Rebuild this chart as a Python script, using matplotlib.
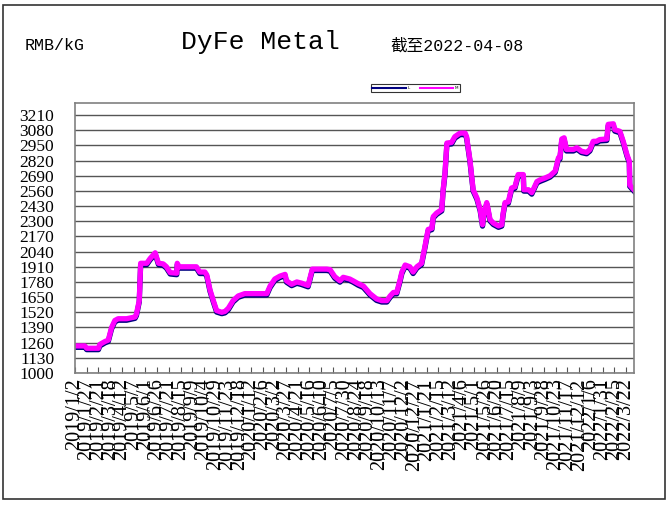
import matplotlib
matplotlib.use('Agg')
import matplotlib.pyplot as plt
import pandas as pd
from matplotlib.patches import Rectangle

# price points (RMB/kG)
dates = [
    '2019-01-02', '2019-01-23', '2019-01-27', '2019-02-21', '2019-02-24', '2019-03-07',
    '2019-03-14', '2019-03-21', '2019-03-28', '2019-04-04', '2019-04-22', '2019-05-10',
    '2019-05-13', '2019-05-19', '2019-05-22', '2019-06-04', '2019-06-11', '2019-06-22',
    '2019-06-29', '2019-07-09', '2019-07-16', '2019-07-24', '2019-08-07', '2019-08-08',
    '2019-08-12', '2019-09-18', '2019-09-25', '2019-10-06', '2019-10-10', '2019-10-17',
    '2019-10-24', '2019-10-31', '2019-11-11', '2019-11-18', '2019-11-25', '2019-12-05',
    '2019-12-16', '2019-12-30', '2020-02-15', '2020-02-22', '2020-03-03', '2020-03-14',
    '2020-03-25', '2020-03-28', '2020-04-08', '2020-04-19', '2020-04-29', '2020-05-13',
    '2020-05-22', '2020-06-22', '2020-06-29', '2020-07-09', '2020-07-20', '2020-07-27',
    '2020-08-10', '2020-08-17', '2020-08-28', '2020-09-08', '2020-09-22', '2020-10-06',
    '2020-10-17', '2020-10-28', '2020-11-04', '2020-11-11', '2020-11-18', '2020-11-25',
    '2020-11-29', '2020-12-06', '2020-12-16', '2020-12-23', '2020-12-31', '2021-01-10',
    '2021-01-17', '2021-01-24', '2021-02-01', '2021-02-04', '2021-02-11', '2021-02-22',
    '2021-02-25', '2021-03-01', '2021-03-05', '2021-03-15', '2021-03-22', '2021-04-02',
    '2021-04-13', '2021-04-16', '2021-04-23', '2021-04-30', '2021-05-08', '2021-05-15',
    '2021-05-20', '2021-05-23', '2021-05-29', '2021-06-01', '2021-06-05', '2021-06-12',
    '2021-06-23', '2021-06-30', '2021-07-03', '2021-07-07', '2021-07-14', '2021-07-21',
    '2021-07-28', '2021-08-04', '2021-08-15', '2021-08-16', '2021-08-26', '2021-09-02',
    '2021-09-05', '2021-09-13', '2021-09-20', '2021-09-30', '2021-10-11', '2021-10-22',
    '2021-10-29', '2021-11-01', '2021-11-05', '2021-11-10', '2021-11-15', '2021-11-30',
    '2021-12-07', '2021-12-17', '2021-12-28', '2022-01-04', '2022-01-11', '2022-01-18',
    '2022-01-25', '2022-02-09', '2022-02-12', '2022-02-23', '2022-02-26', '2022-03-09',
    '2022-03-16', '2022-03-24', '2022-03-29', '2022-03-30', '2022-04-08',
]
price_m = [
    1232, 1232, 1212, 1212, 1245, 1270,
    1282, 1390, 1450, 1465, 1465, 1480,
    1505, 1620, 1940, 1940, 1980, 2030,
    1940, 1935, 1910, 1860, 1855, 1940,
    1910, 1910, 1865, 1865, 1840, 1710,
    1620, 1535, 1520, 1528, 1555, 1620,
    1660, 1680, 1680, 1745, 1805, 1830,
    1845, 1790, 1760, 1780, 1770, 1750,
    1890, 1890, 1885, 1825, 1790, 1820,
    1805, 1790, 1765, 1745, 1680, 1635,
    1620, 1620, 1660, 1690, 1690, 1795,
    1865, 1925, 1910, 1865, 1910, 1940,
    2080, 2230, 2240, 2340, 2370, 2400,
    2570, 2715, 2970, 2975, 3025, 3055,
    3055, 3025, 2830, 2570, 2500, 2400,
    2270, 2370, 2460, 2400, 2315, 2285,
    2260, 2270, 2370, 2460, 2465, 2585,
    2595, 2700, 2700, 2570, 2570, 2545,
    2570, 2640, 2655, 2670, 2690, 2730,
    2845, 2845, 3005, 3015, 2915, 2915,
    2930, 2900, 2890, 2915, 2985, 2985,
    3000, 3005, 3130, 3135, 3085, 3070,
    2985, 2870, 2815, 2610, 2570,
]
price_l = [
    1220, 1220, 1200, 1200, 1232, 1258,
    1270, 1378, 1438, 1452, 1452, 1468,
    1492, 1608, 1928, 1928, 1968, 2018,
    1928, 1922, 1898, 1848, 1842, 1928,
    1898, 1898, 1852, 1852, 1828, 1698,
    1608, 1522, 1508, 1515, 1542, 1608,
    1648, 1668, 1668, 1732, 1792, 1818,
    1832, 1778, 1748, 1768, 1758, 1738,
    1878, 1878, 1872, 1812, 1778, 1808,
    1792, 1778, 1752, 1732, 1668, 1622,
    1608, 1608, 1648, 1678, 1678, 1782,
    1852, 1912, 1898, 1852, 1898, 1928,
    2068, 2218, 2228, 2328, 2358, 2388,
    2558, 2702, 2958, 2962, 3012, 3042,
    3042, 3012, 2818, 2558, 2488, 2388,
    2258, 2358, 2448, 2388, 2302, 2272,
    2248, 2258, 2358, 2448, 2452, 2572,
    2582, 2688, 2688, 2558, 2558, 2532,
    2558, 2628, 2642, 2658, 2678, 2718,
    2832, 2832, 2992, 3002, 2902, 2902,
    2918, 2888, 2878, 2902, 2972, 2972,
    2988, 2992, 3118, 3122, 3072, 3058,
    2972, 2858, 2802, 2598, 2558,
]
y_ticks = [1000, 1130, 1260, 1390, 1520, 1650, 1780, 1910, 2040,
           2170, 2300, 2430, 2560, 2690, 2820, 2950, 3080, 3210]
x_start = '2019-01-02'
x_end = '2022-04-08'
tick_step = '25D'

W, H = 668, 509
fig = plt.figure(figsize=(W / 100, H / 100), dpi=100)
ax = fig.add_axes([75 / W, 1 - 373 / H, (634 - 75) / W, (373 - 103) / H])

x = pd.to_datetime(dates)
ax.plot(x, price_l, color='#000080', lw=3.8, label='L')
ax.plot(x, price_m, color='#ff00ff', lw=3.8, label='M')

ax.set_xlim(pd.Timestamp(x_start), pd.Timestamp(x_end))
ax.set_ylim(1000, 3313)
ax.set_yticks(y_ticks)
ax.set_yticklabels([str(v) for v in y_ticks], family='Liberation Serif', fontsize=12.5)
ax.yaxis.grid(True, color='#555555', lw=1)
ax.set_axisbelow(True)
ax.tick_params(axis='y', length=0, pad=15)

ticks = pd.date_range(x_start, x_end, freq=tick_step)
ax.set_xticks(ticks)
ax.set_xticklabels([f'{d.year}/{d.month}/{d.day}' for d in ticks], rotation=90,
                   family='Liberation Serif', fontsize=14.5)
ax.tick_params(axis='x', direction='in', length=4, color='#555555', pad=4)
for s in ax.spines.values():
    s.set_color('#808080')
    s.set_linewidth(1.2)

fig.text(25 / W, 1 - 46 / H, 'RMB/kG', family='Liberation Mono', fontsize=12, va='center')
fig.text(260 / W, 1 - 42 / H, 'DyFe Metal', family='Liberation Mono', fontsize=19,
         ha='center', va='center')
fig.text(390 / W, 1 - 46 / H, '截至2022-04-08', family=['Liberation Mono', 'Noto Sans CJK SC'],
         fontsize=12, va='center')

leg = fig.legend(loc='center', bbox_to_anchor=(415.5 / W, 1 - 88 / H), ncol=2, fontsize=3,
                 frameon=True, fancybox=False, edgecolor='black', handlelength=8,
                 handletextpad=0.4, columnspacing=2.5, borderpad=0.4)
leg.get_frame().set_linewidth(0.8)
for line in leg.get_lines():
    line.set_linewidth(1.5)

fig.patches.append(Rectangle((3 / W, 1 - 499 / H), 662 / W, 494 / H, transform=fig.transFigure,
                             fill=False, ec='#333333', lw=1.2))

fig.savefig('out.png', dpi=100)
